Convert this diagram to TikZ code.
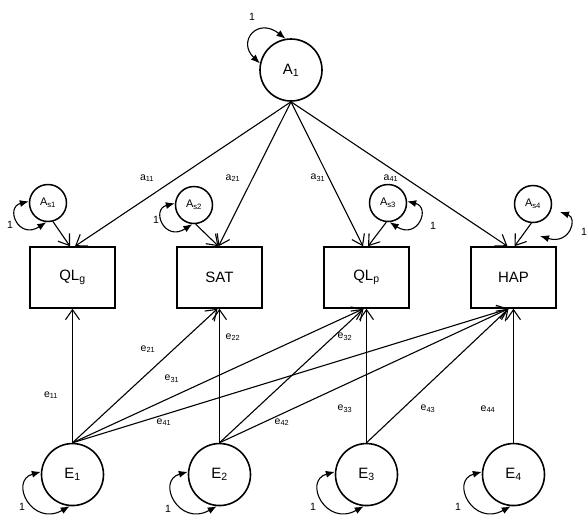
\documentclass[tikz,border=0pt]{standalone}
\usepackage{fontspec}
\setmainfont{Liberation Sans}
\usetikzlibrary{positioning,arrows.meta}

\tikzset{
  latent/.style={circle, draw, line width=1.6pt, minimum size=62pt, inner sep=0pt, font=\fontsize{15}{18}\selectfont},
  specific/.style={circle, draw, line width=1.5pt, minimum size=37pt, inner sep=0pt, font=\fontsize{11}{13}\selectfont},
  manifest/.style={rectangle, draw, line width=1.5pt, minimum width=85pt, minimum height=61pt, font=\fontsize{15}{18}\selectfont},
  load/.style={line width=1.1pt, -{Straight Barb[length=10pt,width=14pt]}},
  varloop/.style={line width=1.1pt, {Latex[length=9pt,width=7pt]}-{Latex[length=9pt,width=7pt]}},
  coef/.style={font=\fontsize{10.5}{12}\selectfont, inner sep=0pt},
}

\begin{document}
\begin{tikzpicture}[x=1pt, y=-1pt]
	\useasboundingbox (0,0) rectangle (587,515);
	% Define nodes
	\node[latent] (A1) at (291,70) {A\textsubscript{1}};
	\node[manifest] (QLg) at (72.5,277.5) {QL\textsubscript{g}};
	\node[manifest, right=60.5pt of QLg] (SAT) {SAT};
	\node[manifest, right=60.5pt of SAT] (QLp) {QL\textsubscript{p}};
	\node[manifest, right=60.5pt of QLp] (HAP) {HAP};
	\node[specific] (As1) at (48,203) {A\textsubscript{s1}};
	\node[specific] (As2) at (194,205) {A\textsubscript{s2}};
	\node[specific] (As3) at (388,203) {A\textsubscript{s3}};
	\node[specific] (As4) at (533,204) {A\textsubscript{s4}};
	\node[latent, below=134pt of QLg] (E1) {E\textsubscript{1}};
	\node[latent, below=134pt of SAT] (E2) {E\textsubscript{2}};
	\node[latent, below=134pt of QLp] (E3) {E\textsubscript{3}};
	\node[latent, below=134pt of HAP] (E4) {E\textsubscript{4}};

	% Common factor loadings
	\draw[load] (A1.south) -- ([xshift=2.5pt]QLg.north);
	\draw[load] (A1.south) -- ([xshift=-1pt]SAT.north);
	\draw[load] (A1.south) -- ([xshift=-3.5pt]QLp.north);
	\draw[load] (A1.south) -- ([xshift=-6pt]HAP.north);
	\draw[load] (As1.285) -- ([xshift=-2.5pt]QLg.north);
	\draw[load] (As2.275) -- ([xshift=-1pt]SAT.north);
	\draw[load] (As3.265) -- ([xshift=1.5pt]QLp.north);
	\draw[load] (As4.265) -- ([xshift=1pt]HAP.north);

	% Errors
	\draw[load] (E1.north) -- (QLg.south);
	\draw[load] (E1.north) -- ([xshift=-2pt]SAT.south);
	\draw[load] (E1.north) -- ([xshift=-3pt]QLp.south);
	\draw[load] (E1.north) -- ([xshift=-5pt]HAP.south);
	\draw[load] (E2.north) -- (SAT.south);
	\draw[load] (E2.north) -- ([xshift=-3pt]QLp.south);
	\draw[load] (E2.north) -- ([xshift=-5pt]HAP.south);
	\draw[load] (E3.north) -- (QLp.south);
	\draw[load] (E3.north) -- ([xshift=-5pt]HAP.south);
	\draw[load] (E4.north) -- (HAP.south);

	% Variances
	\draw[varloop] (A1.168) .. controls +(-23,-22) and +(-28,-22) .. (A1.100);
	\draw[varloop] (As1.175) .. controls +(-24,6) and +(-28,18) .. (As1.265);
	\draw[varloop] (As2.175) .. controls +(-24,6) and +(-28,18) .. (As2.265);
	\draw[varloop] (As3.5) .. controls +(24,6) and +(28,18) .. (As3.275);
	\coordinate (s4a) at ([shift={(27,8)}]As4.center);
	\coordinate (s4b) at ([shift={(7,32)}]As4.center);
	\draw[varloop] (s4a) .. controls +(18,6) and +(30,9) .. (s4b);
	\foreach \e in {E1,E2,E3,E4}
		\draw[varloop] (\e.175) .. controls +(-32,9) and +(-38,21) .. (\e.265);

	% Labels
	\node[coef] (v0) at (252,17) {1};
	\node[coef] (v1) at (10,225) {1};
	\node[coef] (v2) at (156,220) {1};
	\node[coef] (v3) at (433,226) {1};
	\node[coef] (v4) at (584,232) {1};
	\node[coef] (w1) at (22,507) {1};
	\node[coef] (w2) at (168,509) {1};
	\node[coef] (w3) at (313,507) {1};
	\node[coef] (w4) at (458,507) {1};
	\node[coef] (a11) at (147,178) {a\textsubscript{11}};
	\node[coef] (a21) at (233,178) {a\textsubscript{21}};
	\node[coef] (a31) at (318,178) {a\textsubscript{31}};
	\node[coef] (a41) at (391,178) {a\textsubscript{41}};
	\node[coef] (e11) at (51,395) {e\textsubscript{11}};
	\node[coef] (e21) at (148,349) {e\textsubscript{21}};
	\node[coef] (e22) at (233,337) {e\textsubscript{22}};
	\node[coef] (e31) at (172,379) {e\textsubscript{31}};
	\node[coef] (e41) at (164,422) {e\textsubscript{41}};
	\node[coef] (e42) at (282,422) {e\textsubscript{42}};
	\node[coef] (e32) at (345,337) {e\textsubscript{32}};
	\node[coef] (e33) at (345,409) {e\textsubscript{33}};
	\node[coef] (e43) at (428,409) {e\textsubscript{43}};
	\node[coef] (e44) at (488,409) {e\textsubscript{44}};
\end{tikzpicture}
\end{document}
